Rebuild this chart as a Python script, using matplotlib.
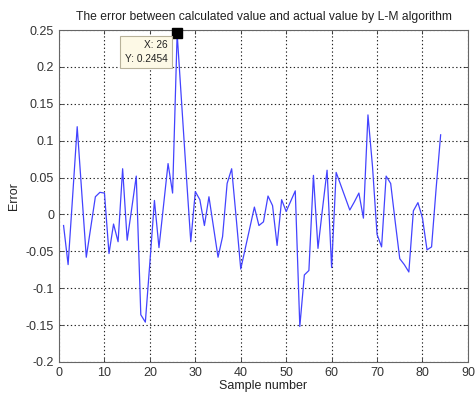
import matplotlib
matplotlib.use("Agg")
import matplotlib.pyplot as plt
import numpy as np

plt.rcParams['font.family'] = ['Liberation Sans', 'DejaVu Sans']

# Prediction error of the L-M trained model for each sample
sample = list(range(1, 85))
error = [
    -0.015, -0.068, 0.025, 0.119, 0.030, -0.058, -0.017, 0.024, 0.030, 0.029,
    -0.053, -0.013, -0.037, 0.062, -0.035, 0.008, 0.052, -0.136, -0.146, -0.065,
    0.019, -0.045, 0.012, 0.069, 0.029, 0.2454, 0.150, 0.055, -0.037, 0.031,
    0.020, -0.015, 0.024, -0.017, -0.058, -0.030, 0.042, 0.062, -0.005, -0.074,
    -0.046, -0.018, 0.010, -0.015, -0.010, 0.025, 0.012, -0.042, 0.020, 0.004,
    0.018, 0.032, -0.152, -0.082, -0.076, 0.053, -0.046, 0.008, 0.060, -0.072,
    0.057, 0.040, 0.023, 0.006, 0.017, 0.029, -0.005, 0.135, 0.065, -0.027,
    -0.044, 0.052, 0.042, -0.010, -0.060, -0.068, -0.078, 0.005, 0.016, -0.005,
    -0.048, -0.044, 0.035, 0.108,
]
tip_index = 25  # sample 26, the largest error

x_ticks = list(range(0, 91, 10))
y_ticks = [-0.2, -0.15, -0.1, -0.05, 0, 0.05, 0.1, 0.15, 0.2, 0.25]

fig = plt.figure(figsize=(4.76, 3.96), dpi=100)
ax = fig.add_axes([0.124, 0.086, 0.859, 0.838])

ax.plot(sample, error, color='#4343ff', lw=0.9)

ax.set_xlim(0, 90)
ax.set_ylim(-0.2, 0.25)
ax.set_xticks(x_ticks)
ax.set_yticks(y_ticks)
ax.set_xticklabels([str(v) for v in x_ticks])
ax.set_yticklabels(['-0.2', '-0.15', '-0.1', '-0.05', '0', '0.05', '0.1', '0.15', '0.2', '0.25'])
ax.tick_params(direction='in', length=3, top=True, right=True, labelsize=9,
               colors='#333333', width=0.6)
ax.grid(True, color='#222222', linestyle=(0, (1.2, 2.2)), lw=0.8)
for s in ax.spines.values():
    s.set_color('#666666')
    s.set_linewidth(0.8)

ax.set_title('The error between calculated value and actual value by L-M algorithm',
             fontsize=8.7, color='#222222', pad=7)
ax.set_xlabel('Sample number', fontsize=9, color='#222222', labelpad=1)
ax.set_ylabel('Error', fontsize=9, color='#222222', labelpad=4)

# Data cursor on the largest error
tx, ty = sample[tip_index], error[tip_index]
ax.plot([tx], [ty], marker='s', color='black', ms=7, clip_on=False, zorder=5)
ax.annotate(f'X: {tx}\nY: {ty:.4f}', xy=(tx, ty), xytext=(-7, -5),
            textcoords='offset points', ha='right', va='top', fontsize=7.3,
            color='#222222', multialignment='right', linespacing=1.4,
            bbox=dict(boxstyle='square,pad=0.45', fc='#fdf9e6', ec='#b8b29a', lw=0.8),
            zorder=6)

fig.savefig('out.png', dpi=100)
